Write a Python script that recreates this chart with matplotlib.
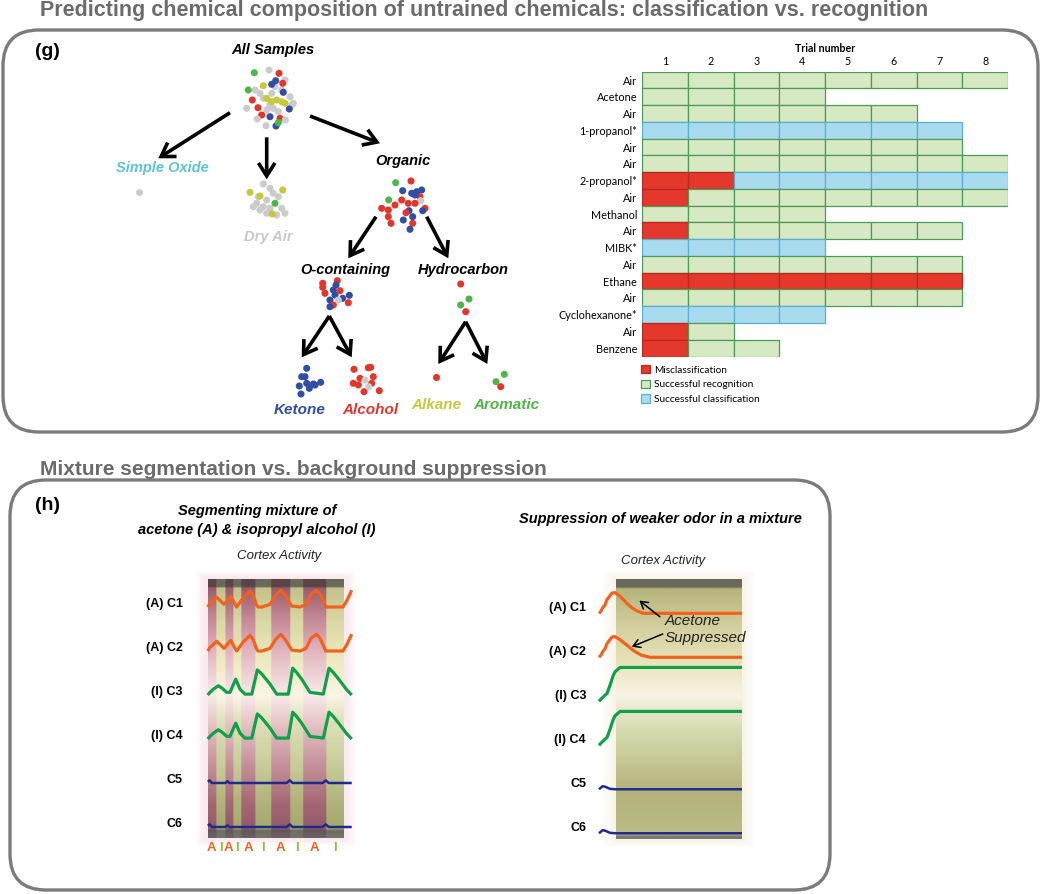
import numpy as np
import matplotlib
matplotlib.use("Agg")
import matplotlib.pyplot as plt
from matplotlib.patches import FancyBboxPatch, Rectangle, FancyArrowPatch, Patch
from matplotlib.colors import to_rgb

# ============================ DATA ============================
TITLE_G = "Predicting chemical composition of untrained chemicals: classification vs. recognition"
TITLE_H = "Mixture segmentation vs. background suppression"

# ---- (g) trial table ----
trial_numbers = [1, 2, 3, 4, 5, 6, 7, 8]
stimuli = ["Air", "Acetone", "Air", "1-propanol*", "Air", "Air", "2-propanol*", "Air",
           "Methanol", "Air", "MIBK*", "Air", "Ethane", "Air", "Cyclohexanone*", "Air", "Benzene"]
# M = misclassification, S = successful recognition, C = successful classification
outcomes = ["SSSSSSSS", "SSSS", "SSSSSS", "CCCCCCC", "SSSSSSS", "SSSSSSSS", "MMCCCCCC",
            "MSSSSSSS", "SSSS", "MSSSSSS", "CCCC", "SSSSSSS", "MMMMMMM", "SSSSSSS",
            "CCCC", "MS", "MSS"]
outcome_names = ["Misclassification", "Successful recognition", "Successful classification"]
outcome_codes = ["M", "S", "C"]

# ---- (g) hierarchy: cluster embeddings (b=ketone, r=alcohol, y=alkane, g=aromatic, k=air) ----
all_samples_pts = [
    (254.3, 72.7, 'g'), (269.0, 70.0, 'k'), (279.0, 73.3, 'r'), (285.0, 80.0, 'k'),
    (263.3, 85.7, 'y'), (275.0, 86.7, 'k'), (271.7, 84.3, 'b'), (275.7, 80.7, 'b'),
    (255.0, 90.0, 'k'), (248.3, 90.0, 'g'), (260.0, 93.3, 'k'), (281.7, 90.0, 'k'),
    (283.3, 92.3, 'b'), (282.7, 83.3, 'r'), (290.0, 96.7, 'k'), (252.3, 100.0, 'r'),
    (263.3, 98.3, 'k'), (271.7, 93.3, 'k'), (266.7, 98.3, 'y'), (276.7, 100.0, 'y'),
    (281.7, 101.7, 'y'), (293.3, 103.3, 'k'), (291.7, 105.0, 'k'), (289.3, 109.0, 'b'),
    (246.7, 108.3, 'k'), (258.0, 107.7, 'r'), (266.7, 110.0, 'k'), (270.0, 105.0, 'k'),
    (273.3, 108.3, 'k'), (271.7, 101.7, 'y'), (285.0, 103.3, 'y'), (261.7, 115.0, 'r'),
    (257.3, 119.0, 'k'), (270.0, 116.7, 'b'), (278.3, 111.7, 'k'), (280.0, 118.3, 'r'),
    (285.3, 120.0, 'k'), (266.0, 125.7, 'k'), (276.0, 126.0, 'b'), (278.3, 122.7, 'g'),
]
simple_oxide_pts = [(139.3, 191.7, 'k')]
dry_air_pts = [
    (263.3, 184.0, 'k'), (270.0, 188.3, 'k'), (250.0, 192.3, 'y'), (282.7, 190.0, 'y'),
    (273.3, 193.3, 'k'), (258.3, 196.7, 'k'), (260.0, 196.0, 'y'), (278.3, 196.7, 'k'),
    (266.7, 200.0, 'k'), (253.3, 206.7, 'k'), (263.3, 206.7, 'k'), (256.7, 203.3, 'k'),
    (281.7, 208.3, 'k'), (260.0, 210.0, 'k'), (266.7, 213.3, 'k'), (270.0, 208.3, 'k'),
    (285.0, 213.3, 'k'), (276.7, 215.0, 'k'), (275.0, 203.3, 'g'), (272.3, 214.0, 'y'),
]
organic_pts = [
    (395.7, 182.7, 'g'), (411.0, 181.0, 'r'), (402.7, 190.7, 'b'), (411.7, 193.3, 'b'),
    (416.7, 191.7, 'b'), (421.7, 190.0, 'b'), (420.0, 196.7, 'r'), (420.7, 200.7, 'k'),
    (415.0, 195.0, 'b'), (388.7, 200.0, 'g'), (381.7, 208.3, 'r'), (388.3, 210.0, 'r'),
    (395.0, 205.0, 'r'), (401.7, 200.0, 'r'), (408.3, 203.3, 'r'), (415.0, 203.3, 'r'),
    (425.0, 208.3, 'r'), (422.7, 210.7, 'b'), (409.0, 210.7, 'b'), (406.0, 212.7, 'r'),
    (388.3, 216.7, 'r'), (391.0, 223.3, 'r'), (403.3, 220.0, 'b'), (412.7, 216.7, 'b'),
    (412.7, 223.3, 'r'), (410.0, 229.3, 'b'),
]
o_containing_pts = [
    (322.7, 283.3, 'r'), (322.7, 287.3, 'r'), (337.3, 280.7, 'r'), (336.0, 285.0, 'b'),
    (325.0, 293.3, 'r'), (333.3, 290.0, 'b'), (340.0, 290.7, 'r'), (335.0, 295.0, 'b'),
    (349.3, 295.3, 'b'), (342.7, 298.3, 'b'), (338.3, 300.0, 'k'), (330.0, 300.0, 'b'),
    (348.3, 302.7, 'r'), (333.3, 305.0, 'r'), (330.0, 306.7, 'b'),
]
hydrocarbon_pts = [(460.7, 284.0, 'r'), (469.0, 299.0, 'g'), (460.7, 305.0, 'g'), (465.7, 311.7, 'r')]
ketone_pts = [
    (306.7, 368.3, 'b'), (301.7, 376.7, 'b'), (305.0, 376.7, 'b'), (306.7, 383.3, 'b'),
    (313.3, 384.0, 'b'), (320.7, 382.3, 'b'), (315.0, 385.0, 'b'), (309.3, 388.3, 'b'),
    (299.3, 386.0, 'b'), (301.0, 394.0, 'b'),
]
alcohol_pts = [
    (354.0, 369.3, 'r'), (368.3, 367.7, 'r'), (370.7, 367.3, 'r'), (360.0, 378.3, 'r'),
    (373.3, 376.7, 'r'), (353.3, 383.3, 'r'), (371.7, 383.3, 'r'), (365.0, 380.0, 'k'),
    (364.0, 391.7, 'r'), (379.3, 390.7, 'r'), (368.7, 386.7, 'k'), (358.3, 385.0, 'r'),
]
alkane_pts = [(436.0, 376.7, 'r')]
aromatic_pts = [(504.3, 374.3, 'g'), (496.0, 381.7, 'g'), (500.7, 386.7, 'r')]

# ---- (h) left: segmenting a mixture ----
stim_sequence = ["A", "I", "A", "I", "A", "I", "A", "I", "A", "I"]
stim_edges = [0, 6.1, 12.7, 18.6, 24.5, 34.8, 46.5, 60.5, 70.1, 87.0, 100]
seg_channels = ["(A) C1", "(A) C2", "(I) C3", "(I) C4", "C5", "C6"]
seg_acetone_t = [0, 1.7, 6.6, 9, 12, 16.9, 21.3, 26, 31.1, 33.3, 36, 37, 40, 45.8, 50.2, 53.7,
                 56.8, 61.8, 68, 72.3, 76, 80, 82.6, 86.8, 99.5, 102.4, 105.9]
seg_acetone_a = [0, 0.08, 0.22, 0.15, 0.06, 0.24, 0, 0.2, 0.36, 0.27, 0.04, 0, 0, 0.06, 0.27, 0.38,
                 0.27, 0.02, 0, 0.06, 0.29, 0.38, 0.29, 0, 0, 0.15, 0.38]
seg_iso_t = [0, 1.7, 4.1, 7.8, 10.3, 14, 16.4, 20.6, 23.8, 27.4, 32.4, 36.5, 39.7, 45.8, 50.7,
             59.3, 62.5, 65.4, 69.1, 75.2, 85, 89.2, 92.4, 97.3, 102.2, 105.9]
seg_iso_a = [0, 0.06, 0.13, 0.21, 0.16, 0.06, 0.06, 0.36, 0.13, 0.02, 0.02, 0.57, 0.48, 0.25, 0.02,
             0.02, 0.61, 0.51, 0.36, 0.06, 0.02, 0.61, 0.51, 0.32, 0.12, 0]
seg_other_t = [0, 1.5, 3, 13, 14.5, 16, 58, 60.3, 62.5, 84.5, 86.8, 89, 105.9]
seg_other_a = [0.03, 0.06, 0, 0, 0.04, 0, 0, 0.06, 0, 0, 0.06, 0, 0]

# ---- (h) right: suppression of the weaker odor ----
sup_c1_t = [-13.5, -11.9, -10.3, -8.7, -7.4, -5.6, -3.2, -0.8, 3.2, 8.5, 12.7, 16.4, 21.4, 100]
sup_c1_a = [0, 0.05, 0.14, 0.19, 0.30, 0.37, 0.46, 0.47, 0.39, 0.23, 0.12, 0.06, 0, 0]
sup_c2_t = [-13.5, -11.9, -10.3, -8.7, -7.4, -5.6, -3.2, -0.8, 3.2, 8.5, 14, 20, 27, 100]
sup_c2_a = [0, 0.05, 0.14, 0.19, 0.30, 0.37, 0.46, 0.47, 0.40, 0.28, 0.15, 0.05, 0, 0]
sup_iso_t = [-13.5, -11.9, -8.7, -7.1, -4.8, -2.4, -0.8, 3.2, 100]
sup_iso_a = [0, 0.05, 0.14, 0.18, 0.36, 0.57, 0.67, 0.77, 0.77]
sup_other_t = [-13.5, -10.6, -8.7, -4.8, 0, 100]
sup_other_a = [0, 0.07, 0.06, 0.01, 0, 0]

# ============================ STYLE ============================
W, H = 1050, 894
GRAY_TXT = "#6b6b6b"
BOX_EC = "#7b7b7b"
ARIAL = "Liberation Sans"
MYRIAD = "Lato"
PT_COL = {'b': '#2f4fa5', 'r': '#e5352a', 'y': '#c9c73a', 'g': '#4cb748', 'k': '#cbcbcb'}
FILL = {'S': '#d6e9c3', 'C': '#a9dbef', 'M': '#e3382b'}
EDGE = {'S': '#4c9a5a', 'C': '#5aaed6', 'M': '#b8281e'}
ORANGE, GREEN, NAVY = "#f2621f", "#10a04a", "#1f2b8c"

fig = plt.figure(figsize=(W / 100, H / 100), dpi=100)
bg = fig.add_axes([0, 0, 1, 1])
bg.set_xlim(0, W)
bg.set_ylim(H, 0)
bg.axis("off")


def px_axes(x0, y0, x1, y1):
    return fig.add_axes([x0 / W, 1 - y1 / H, (x1 - x0) / W, (y1 - y0) / H])


# titles and boxes
bg.text(40, 16, TITLE_G, fontsize=15.5, fontweight="bold", color=GRAY_TXT, family=ARIAL, va="baseline")
bg.text(40, 475, TITLE_H, fontsize=15, fontweight="bold", color=GRAY_TXT, family=ARIAL, va="baseline")
for (x0, y0, x1, y1) in [(3, 30, 1038, 432), (10, 480, 830, 890)]:
    bg.add_patch(FancyBboxPatch((x0, y0), x1 - x0, y1 - y0, boxstyle="round,pad=0,rounding_size=36",
                                fc="none", ec=BOX_EC, lw=2.4))
bg.text(35, 51, "(g)", fontsize=14, fontweight="bold", family=ARIAL, va="center")
bg.text(35, 505, "(h)", fontsize=14, fontweight="bold", family=ARIAL, va="center")

# ---------------- hierarchy tree ----------------
for pts in [all_samples_pts, simple_oxide_pts, dry_air_pts, organic_pts, o_containing_pts,
            hydrocarbon_pts, ketone_pts, alcohol_pts, alkane_pts, aromatic_pts]:
    xs = [p[0] for p in pts]
    ys = [p[1] for p in pts]
    cs = [PT_COL[p[2]] for p in pts]
    bg.scatter(xs, ys, s=26, c=cs, linewidths=0, zorder=3)

node_labels = [
    ("All Samples", 273, 50, "black", 10.5),
    ("Simple Oxide", 162, 168, "#5bc3dc", 10.5),
    ("Dry Air", 268, 237, "#c8c8c8", 10.5),
    ("Organic", 403, 161, "black", 10.5),
    ("O-containing", 345, 270, "black", 10.5),
    ("Hydrocarbon", 463, 270, "black", 10.5),
    ("Ketone", 300, 410, PT_COL['b'], 11),
    ("Alcohol", 370, 410, PT_COL['r'], 11),
    ("Alkane", 436, 405, PT_COL['y'], 11),
    ("Aromatic", 506, 405, PT_COL['g'], 11),
]
for txt, x, y, c, fs in node_labels:
    bg.text(x, y, txt, fontsize=fs, fontweight="bold", fontstyle="italic", color=c, family=ARIAL,
            ha="center", va="center")

edges = [((230, 112.7), (158.3, 158.3)), ((266.7, 137.3), (266.7, 179.3)), ((310, 116), (380, 143.3)),
         ((376, 216.7), (348.3, 258.3)), ((426.7, 216.7), (448.3, 258.3)),
         ((329.3, 316), (301.7, 357.3)), ((329.3, 316), (351.7, 357.3)),
         ((465.7, 321.7), (438.3, 364)), ((465.7, 321.7), (487.3, 364))]
for a, b in edges:
    bg.add_patch(FancyArrowPatch(a, b, arrowstyle="->,head_length=0.55,head_width=0.35",
                                 mutation_scale=17, lw=2.6, color="black", shrinkA=0, shrinkB=0,
                                 joinstyle="miter", capstyle="butt"))

# ---------------- trial table ----------------
gx = px_axes(642, 71.7, 1008, 356.5)
gx.set_xlim(0.5, 8.5)
gx.set_ylim(len(stimuli) + 0.5, 0.5)
for r, (name, row) in enumerate(zip(stimuli, outcomes), start=1):
    for c, code in enumerate(row, start=1):
        gx.add_patch(Rectangle((c - 0.5, r - 0.5), 1, 1, fc=FILL[code], ec=EDGE[code], lw=0.9))
gx.set_xticks(trial_numbers)
gx.set_xticklabels([str(t) for t in trial_numbers], fontsize=7.7, family=MYRIAD)
gx.xaxis.tick_top()
gx.xaxis.set_label_position("top")
gx.set_xlabel("Trial number", fontsize=7.7, fontweight="bold", family=MYRIAD, labelpad=3)
gx.set_yticks(range(1, len(stimuli) + 1))
gx.set_yticklabels(stimuli, fontsize=7.8, family=MYRIAD)
gx.tick_params(length=0, pad=3.5)
for s in gx.spines.values():
    s.set_visible(False)
gx.patch.set_alpha(0)

handles = [Patch(fc=FILL[c], ec=EDGE[c], lw=0.9) for c in outcome_codes]
fig.legend(handles, outcome_names, loc="upper left", bbox_to_anchor=(641 / W, 1 - 365 / H),
           frameon=False, prop={"family": MYRIAD, "size": 7.3}, handlelength=0.88, handleheight=0.88,
           handletextpad=0.45, labelspacing=0.5, borderpad=0, borderaxespad=0)


# ---------------- cortex panels ----------------
def vgrad(stops, n=400):
    pos = [s[0] for s in stops]
    cols = np.array([to_rgb(s[1]) for s in stops])
    y = np.linspace(0, 1, n)
    return np.stack([np.interp(y, pos, cols[:, i]) for i in range(3)], axis=1)


GRAD_A = vgrad([(0, "#5b4448"), (0.028, "#5b4448"), (0.034, "#9c5c6c"), (0.15, "#c48896"),
                (0.30, "#e6bcc6"), (0.45, "#f8ebe8"), (0.55, "#e8c6c8"), (0.72, "#c4909a"),
                (0.86, "#a66a76"), (0.965, "#93596a"), (0.972, "#625558"), (1, "#6a6264")])
GRAD_I = vgrad([(0, "#6a6a58"), (0.028, "#6a6a58"), (0.034, "#c4c28a"), (0.15, "#d8d6a0"),
                (0.30, "#ece8bc"), (0.45, "#faf6e6"), (0.55, "#e0e0ba"), (0.72, "#c8cc98"),
                (0.86, "#b0b47a"), (0.965, "#a4a86c"), (0.972, "#6c6c60"), (1, "#747468")])
GRAD_S = vgrad([(0, "#6a6a5a"), (0.03, "#6a6a5a"), (0.036, "#b6b47c"), (0.16, "#cfcb98"),
                (0.30, "#e6e0b6"), (0.45, "#f8f4e4"), (0.50, "#e8e8cc"), (0.60, "#d4d8aa"),
                (0.82, "#b2b27a"), (0.92, "#b8b882"), (0.985, "#bcbc88"), (0.99, "#7c7a6c"), (1, "#7c7a6c")])


def glow(x0, y0, x1, y1, color, n=8, step=1.6, alpha=0.03):
    for i in range(1, n + 1):
        d = i * step
        bg.add_patch(Rectangle((x0 - d, y0 - d * 0.6), x1 - x0 + 2 * d, y1 - y0 + 1.2 * d,
                               fc=color, ec="none", alpha=alpha, zorder=0))


# ---- left: segmentation ----
L_X0, L_X1, L_Y0, L_Y1 = 207.7, 343.7, 579, 838
glow(L_X0, L_Y0, L_X1, L_Y1, "#e7b0bc")
la = px_axes(L_X0, L_Y0, L_X1, L_Y1)
l_top, l_bot = 0.364, 6.25
tgrid = np.linspace(0, 100, 600)
idx = np.clip(np.searchsorted(stim_edges, tgrid, side="right") - 1, 0, len(stim_sequence) - 1)
img = np.stack([GRAD_A if stim_sequence[i] == "A" else GRAD_I for i in idx], axis=1)
la.imshow(img, extent=(0, 100, l_bot, l_top), aspect="auto", interpolation="bilinear", origin="upper")
la.set_xlim(0, 100)
la.set_ylim(l_bot, l_top)
la.axis("off")

traces_left = [(seg_acetone_t, seg_acetone_a, ORANGE, 2.3), (seg_acetone_t, seg_acetone_a, ORANGE, 2.3),
               (seg_iso_t, seg_iso_a, GREEN, 2.3), (seg_iso_t, seg_iso_a, GREEN, 2.3),
               (seg_other_t, seg_other_a, NAVY, 1.8), (seg_other_t, seg_other_a, NAVY, 1.8)]
for k, ((t, a, col, lw), name) in enumerate(zip(traces_left, seg_channels), start=1):
    la.plot(t, k - np.array(a), color=col, lw=lw, clip_on=False, solid_capstyle="butt")
    la.text(-18.2, k - 0.07, name, ha="right", va="center", fontsize=9, fontweight="bold",
            family=ARIAL, clip_on=False)
for s, e0, e1 in zip(stim_sequence, stim_edges[:-1], stim_edges[1:]):
    la.text((e0 + e1) / 2, 6.48, s, ha="center", va="center", fontsize=9.5, fontweight="bold",
            family=ARIAL, color=ORANGE if s == "A" else "#86c440", clip_on=False)

bg.text(257, 511, "Segmenting mixture of", fontsize=10.5, fontweight="bold", fontstyle="italic",
        family=ARIAL, ha="center", va="center")
bg.text(257, 530, "acetone (A) & isopropyl alcohol (I)", fontsize=10.5, fontweight="bold",
        fontstyle="italic", family=ARIAL, ha="center", va="center")
bg.text(279, 556, "Cortex Activity", fontsize=9.5, fontstyle="italic", family=ARIAL,
        ha="center", va="center", color="#222222")

# ---- right: suppression ----
R_X0, R_X1, R_Y0, R_Y1 = 616, 742, 579, 839
glow(R_X0, R_Y0, R_X1, R_Y1, "#e8dcb0")
ra = px_axes(R_X0, R_Y0, R_X1, R_Y1)
r_top, r_bot = 0.22, 6.13
ra.imshow(GRAD_S[:, None, :], extent=(0, 100, r_bot, r_top), aspect="auto",
          interpolation="bilinear", origin="upper")
ra.set_xlim(0, 100)
ra.set_ylim(r_bot, r_top)
ra.axis("off")
traces_right = [(sup_c1_t, sup_c1_a, ORANGE, 2.3), (sup_c2_t, sup_c2_a, ORANGE, 2.3),
                (sup_iso_t, sup_iso_a, GREEN, 2.3), (sup_iso_t, sup_iso_a, GREEN, 2.3),
                (sup_other_t, sup_other_a, NAVY, 1.8), (sup_other_t, sup_other_a, NAVY, 1.8)]
for k, ((t, a, col, lw), name) in enumerate(zip(traces_right, seg_channels), start=1):
    ra.plot(t, k - np.array(a), color=col, lw=lw, clip_on=False, solid_capstyle="butt")
    ra.text(-23.8, k - 0.12, name, ha="right", va="center", fontsize=9, fontweight="bold",
            family=ARIAL, clip_on=False)
ra.text(38.9, 1.17, "Acetone", fontsize=11, fontstyle="italic", family=ARIAL, va="center",
        ha="left", clip_on=False, color="#222222")
ra.text(38.9, 1.56, "Suppressed", fontsize=11, fontstyle="italic", family=ARIAL, va="center",
        ha="left", clip_on=False, color="#222222")
ra.annotate("", xy=(18.5, 0.71), xytext=(34.9, 1.08),
            arrowprops=dict(arrowstyle="->,head_length=0.5,head_width=0.3", lw=1.1, color="black",
                            shrinkA=0, shrinkB=0), annotation_clip=False)
ra.annotate("", xy=(12.5, 1.76), xytext=(37.1, 1.47),
            arrowprops=dict(arrowstyle="->,head_length=0.5,head_width=0.3", lw=1.1, color="black",
                            shrinkA=0, shrinkB=0), annotation_clip=False)

bg.text(660, 519, "Suppression of weaker odor in a mixture", fontsize=10.5, fontweight="bold",
        fontstyle="italic", family=ARIAL, ha="center", va="center")
bg.text(663, 561, "Cortex Activity", fontsize=9.5, fontstyle="italic", family=ARIAL,
        ha="center", va="center", color="#222222")

fig.savefig("out.png", dpi=100)
